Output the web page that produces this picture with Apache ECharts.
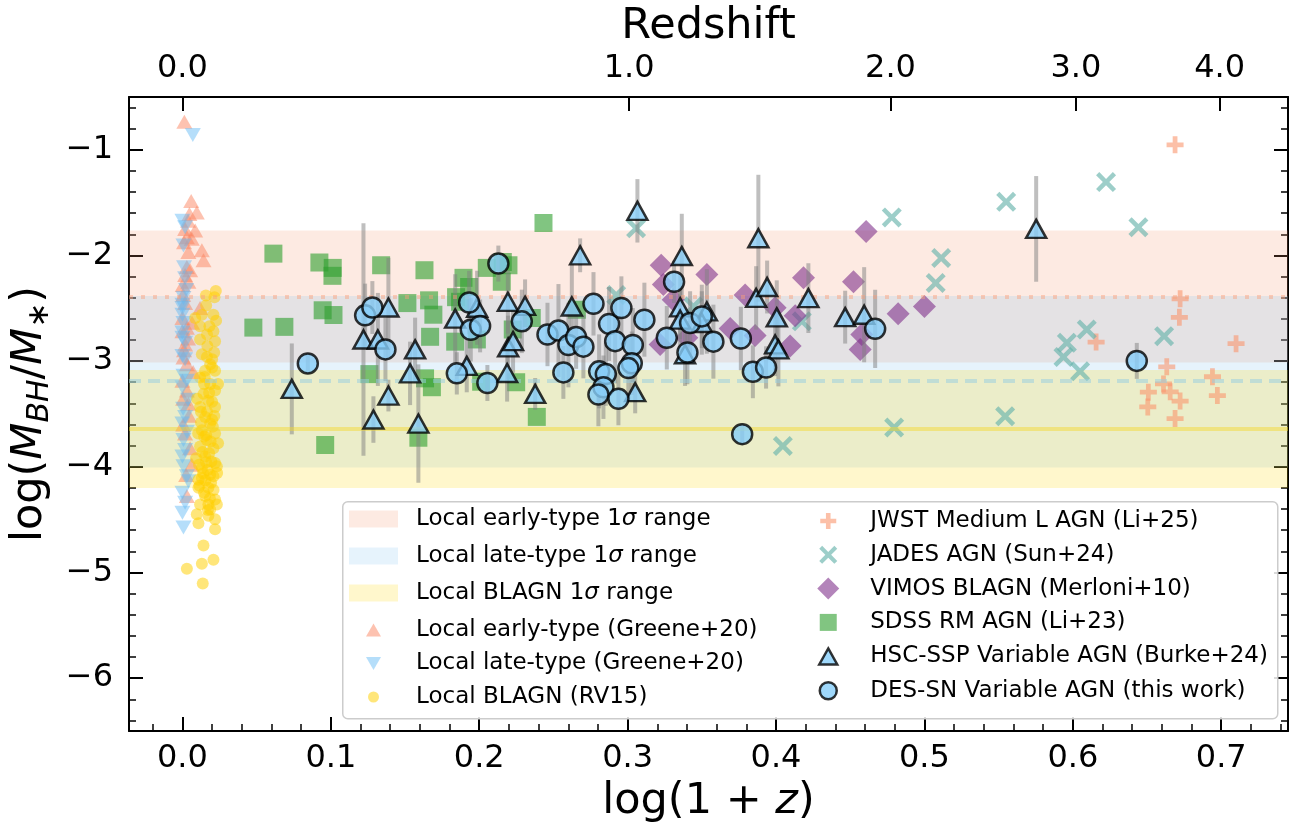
<!DOCTYPE html>
<html><head><meta charset="utf-8">
<script src="https://cdn.jsdelivr.net/npm/echarts@6/dist/echarts.min.js"></script>
<style>html,body{margin:0;padding:0;background:#fff}#c{width:1304px;height:832px}</style>
</head><body><div id="c"></div>
<script>
// ---------- tick labels ----------
const xTicks = [0, 0.1, 0.2, 0.3, 0.4, 0.5, 0.6, 0.7];
const yTicks = [-6, -5, -4, -3, -2, -1];
const redshiftTicks = [0, 1, 2, 3, 4];
const X_MIN = -0.036, X_MAX = 0.745, Y_MIN = -6.5, Y_MAX = -0.5;

// ---------- local 1-sigma ranges ----------
const bandEarly = [-1.765, -3.013], meanEarly = -2.39;
const bandLate = [-2.385, -4.006], meanLate = -3.195;
const bandBLAGN = [-3.085, -4.20], meanBLAGN = -3.644;

// ---------- Local early-type (Greene+20) ----------
const earlyX = [0.0013,0.0059,0.0047,0.0097,0.0018,0.0030,0.0063,0.0011,0.0131,0.0142,0.0040,0.0030,0.0018,0.0040,0.0002,0.0119,0.0018,0.0000,0.0030,0.0000,0.0018,0.0007,0.0030,0.0000,0.0030,0.0040,0.0063,0.0030,0.0052,0.0005,0.0065,0.0038,0.0011,0.0072,0.0005,0.0045,0.0018,0.0052,0.0025,0.0005,0.0038,0.0086];
const earlyY = [-0.735,-1.484,-1.609,-1.594,-1.749,-1.828,-1.843,-1.875,-1.952,-2.046,-1.968,-2.109,-2.186,-2.249,-2.280,-2.498,-2.451,-2.592,-2.685,-2.717,-2.842,-2.966,-3.029,-3.185,-3.279,-3.404,-3.981,-4.277,-2.140,-2.373,-2.636,-2.786,-2.898,-3.104,-3.357,-3.516,-3.685,-3.825,-4.078,-3.600,-1.671,-1.765];

// ---------- Local late-type (Greene+20) ----------
const lateX = [0.0070,0.0000,0.0018,0.0007,0.0018,0.0007,0.0000,0.0000,0.0007,0.0000,0.0000,0.0018,0.0000,0.0018,0.0007,0.0030,0.0000,0.0018,0.0000,0.0030,0.0007,0.0018,0.0000,0.0007,0.0030,0.0040,0.0000,0.0018,0.0000,0.0007,0.0011,0.0025,0.0000,0.0038,0.0005];
const lateY = [-0.860,-1.671,-1.734,-1.905,-2.217,-2.404,-2.467,-2.561,-2.639,-2.498,-2.779,-2.826,-2.951,-2.982,-3.138,-3.185,-3.247,-3.528,-3.591,-3.669,-3.747,-3.841,-3.903,-3.996,-4.090,-4.137,-4.246,-4.340,-4.434,-4.574,-2.111,-2.327,-2.730,-3.366,-3.450];

// ---------- Local BLAGN (RV15) ----------
const blX = [0.0225,0.0158,0.0216,0.0160,0.0209,0.0086,0.0131,0.0182,0.0119,0.0209,0.0227,0.0220,0.0119,0.0168,0.0214,0.0131,0.0187,0.0153,0.0220,0.0119,0.0187,0.0220,0.0142,0.0175,0.0119,0.0220,0.0153,0.0187,0.0131,0.0220,0.0164,0.0119,0.0209,0.0153,0.0220,0.0131,0.0187,0.0108,0.0232,0.0209,0.0131,0.0108,0.0175,0.0220,0.0153,0.0119,0.0175,0.0232,0.0097,0.0175,0.0220,0.0108,0.0220,0.0142,0.0131,0.0209,0.0030,0.0137,0.0166,0.0200,0.0146,0.0200,0.0166,0.0200,0.0146,0.0180,0.0160,0.0193,0.0146,0.0187,0.0099,0.0106,0.0240,0.0240,0.0092,0.0234,0.0150,0.0180,0.0125,0.0205,0.0160,0.0135,0.0195,0.0170,0.0115,0.0210,0.0155,0.0185,0.0125,0.0200,0.0165,0.0140,0.0190,0.0112,0.0172,0.0215];
const blY = [-2.336,-2.380,-2.395,-2.474,-2.561,-2.592,-2.561,-2.670,-2.670,-2.717,-2.617,-2.811,-2.795,-2.858,-2.919,-2.935,-3.029,-3.092,-3.092,-3.154,-3.216,-3.279,-3.310,-3.373,-3.434,-3.434,-3.528,-3.591,-3.654,-3.684,-3.747,-3.809,-3.825,-3.903,-3.965,-4.012,-4.075,-4.122,-3.996,-4.090,-4.106,-4.199,-4.199,-4.309,-4.277,-4.356,-4.356,-4.356,-4.449,-4.464,-4.496,-4.534,-4.590,-4.745,-4.918,-4.880,-4.964,-5.105,-2.748,-2.982,-3.216,-3.385,-3.479,-3.554,-3.713,-3.872,-3.956,-4.152,-4.246,-4.405,-3.357,-3.685,-3.778,-3.216,-3.920,-4.059,-3.150,-3.300,-3.480,-3.620,-3.700,-3.860,-3.950,-4.030,-4.180,-4.220,-4.130,-4.300,-3.580,-3.060,-2.960,-4.060,-3.760,-3.980,-4.410,-3.520];

// ---------- JWST Medium L AGN (Li+25) ----------
const jwstX = [0.6689,0.6723,0.6718,0.6157,0.7100,0.6633,0.6611,0.6656,0.6723,0.6689,0.6509,0.6505,0.6941,0.6974];
const jwstY = [-0.953,-2.411,-2.586,-2.820,-2.835,-3.054,-3.216,-3.291,-3.378,-3.544,-3.294,-3.434,-3.148,-3.326];

// ---------- JADES AGN (Sun+24) ----------
const jadesX = [0.3057,0.2923,0.3443,0.4174,0.4046,0.4780,0.4796,0.5113,0.5076,0.5551,0.5544,0.5960,0.5937,0.6094,0.6049,0.6224,0.6442,0.6615];
const jadesY = [-1.743,-2.374,-2.483,-2.624,-3.803,-1.640,-3.628,-2.024,-2.261,-1.493,-3.522,-2.826,-2.961,-2.701,-3.097,-1.306,-1.734,-2.764];

// ---------- VIMOS BLAGN (Merloni+10) ----------
const vimosX = [0.3226,0.3241,0.3307,0.3534,0.3792,0.3691,0.3859,0.3994,0.4129,0.4095,0.4185,0.4522,0.4607,0.4567,0.4578,0.4823,0.5000,0.3219,0.3399];
const vimosY = [-2.093,-2.275,-2.420,-2.180,-2.374,-2.692,-2.757,-2.495,-2.570,-2.858,-2.212,-2.249,-1.774,-2.889,-2.748,-2.551,-2.483,-2.842,-2.779];

// ---------- SDSS RM AGN (Li+23) ----------
const sdssX = [0.0478,0.0613,0.0687,0.0923,0.0945,0.1013,0.1011,0.1018,0.0962,0.1339,0.1260,0.1516,0.1631,0.1662,0.1691,0.1669,0.1635,0.1681,0.1590,0.1844,0.1838,0.1894,0.1932,0.2051,0.2159,0.2152,0.2013,0.2249,0.2226,0.1984,0.2433,0.2197,0.2658,0.2354,0.2388,0.1871];
const sdssY = [-2.683,-1.983,-2.676,-2.067,-2.519,-2.118,-2.193,-2.564,-3.794,-2.093,-3.123,-2.451,-2.140,-2.425,-2.561,-2.770,-3.163,-3.247,-3.725,-2.395,-2.816,-2.212,-2.299,-2.118,-2.062,-2.249,-3.195,-3.200,-2.701,-2.795,-1.693,-2.093,-2.514,-2.592,-3.528,-2.439];

// ---------- HSC-SSP Variable AGN (Burke+24) ----------
const hscX = [0.0737,0.1220,0.1317,0.1388,0.1287,0.1388,0.1568,0.1534,0.1590,0.1838,0.1916,0.1986,0.2193,0.2188,0.2195,0.2228,0.2309,0.2377,0.2624,0.2680,0.3051,0.3066,0.3354,0.3354,0.3365,0.3387,0.3534,0.3866,0.3881,0.3940,0.4005,0.3994,0.4016,0.4218,0.4466,0.4594,0.5753,0.3500];
const hscY = [-3.263,-2.795,-2.795,-2.493,-3.553,-3.326,-2.889,-3.116,-3.591,-2.598,-3.045,-2.495,-2.439,-3.113,-2.870,-2.811,-2.477,-3.310,-2.483,-1.999,-3.294,-1.578,-2.491,-2.608,-2.006,-2.935,-2.530,-2.402,-1.837,-2.299,-2.586,-2.842,-2.889,-2.404,-2.584,-2.561,-1.749,-2.639];
const hscErr = [0.43,1.10,0.44,0.47,0.22,0.15,0.30,0.30,0.56,0.42,0.25,0.35,0.30,0.27,0.30,0.30,0.25,0.15,0.40,0.16,0.20,0.30,0.30,0.30,0.40,0.30,0.40,0.30,0.60,0.25,0.35,0.30,0.35,0.33,0.25,0.45,0.50,0.30];

// ---------- DES-SN Variable AGN (this work) ----------
const desX = [0.0845,0.1231,0.1280,0.1368,0.1849,0.1932,0.1943,0.2006,0.2055,0.2129,0.2287,0.2460,0.2534,0.2601,0.2653,0.2702,0.2567,0.2770,0.2875,0.2958,0.2916,0.3035,0.2808,0.2853,0.2837,0.2803,0.2938,0.3028,0.3005,0.3113,0.3264,0.3313,0.3403,0.3421,0.3500,0.3578,0.3763,0.3844,0.3933,0.3772,0.4668,0.6431];
const desY = [-3.022,-2.567,-2.493,-2.889,-3.116,-2.446,-2.704,-2.667,-3.207,-2.077,-2.624,-2.748,-2.711,-2.848,-2.773,-2.863,-3.107,-2.458,-2.648,-2.498,-2.811,-2.848,-3.097,-3.123,-3.247,-3.316,-3.357,-3.020,-3.066,-2.608,-2.779,-2.249,-2.919,-2.639,-2.577,-2.816,-2.786,-3.101,-3.060,-3.691,-2.695,-2.998];
const desErr = [0.10,0.30,0.25,0.30,0.20,0.30,0.30,0.25,0.17,0.17,0.30,0.30,0.44,0.40,0.30,0.30,0.25,0.30,0.35,0.30,0.40,0.35,0.35,0.30,0.30,0.30,0.25,0.30,0.30,0.35,0.30,0.20,0.30,0.30,0.30,0.35,0.30,0.25,0.20,0.10,0.37,0.17];

// ---------- names ----------
const N = {
  bandE: 'Local early-type 1σ range', bandL: 'Local late-type 1σ range', bandB: 'Local BLAGN 1σ range',
  early: 'Local early-type (Greene+20)', late: 'Local late-type (Greene+20)', bl: 'Local BLAGN (RV15)',
  jwst: 'JWST Medium L AGN (Li+25)', jades: 'JADES AGN (Sun+24)', vimos: 'VIMOS BLAGN (Merloni+10)',
  sdss: 'SDSS RM AGN (Li+23)', hsc: 'HSC-SSP Variable AGN (Burke+24)', des: 'DES-SN Variable AGN (this work)'
};

// ---------- styling ----------
const F = 'DejaVu Sans';
const colBandE = 'rgba(245,150,110,0.2)', colBandL = 'rgba(130,195,240,0.2)', colBandB = 'rgba(255,215,0,0.2)';
const colEarly = 'rgba(250,128,90,0.6)', colLate = 'rgba(100,185,245,0.6)', colBL = 'rgba(255,208,0,0.65)';
const colJWST = 'rgba(250,150,110,0.75)', colJADES = 'rgba(102,178,170,0.8)', colVIMOS = 'rgba(128,50,140,0.75)';
const colSDSS = 'rgba(45,158,45,0.75)', colSky = '#87CEFA';
const PLUS = 'path://M-0.14,-0.5 L0.14,-0.5 L0.14,-0.14 L0.5,-0.14 L0.5,0.14 L0.14,0.14 L0.14,0.5 L-0.14,0.5 L-0.14,0.14 L-0.5,0.14 L-0.5,-0.14 L-0.14,-0.14 Z';
const CROSS = 'path://M-0.34,-0.5 L0,-0.16 L0.34,-0.5 L0.5,-0.34 L0.16,0 L0.5,0.34 L0.34,0.5 L0,0.16 L-0.34,0.5 L-0.5,0.34 L-0.16,0 L-0.5,-0.34 Z';

const PADL = 'path://M-37.5,-8.5 M37.5,8.5 ';
const PADR = 'path://M-37,-12 M37,12 ';
const ICON = {
  patch: PADL + 'M-24.5,-8.5 L24.5,-8.5 L24.5,8.5 L-24.5,8.5 Z',
  early: PADL + 'M0,-6.5 L7.5,6.5 L-7.5,6.5 Z',
  late: PADL + 'M-7.5,-6.5 L7.5,-6.5 L0,6.5 Z',
  bl: PADL + 'M5.5,0 A5.5,5.5 0 1 1 -5.5,0 A5.5,5.5 0 1 1 5.5,0 Z',
  jwst: PADR + 'M-2.3,-8 L2.3,-8 L2.3,-2.3 L8,-2.3 L8,2.3 L2.3,2.3 L2.3,8 L-2.3,8 L-2.3,2.3 L-8,2.3 L-8,-2.3 L-2.3,-2.3 Z',
  jades: PADR + 'M-6.1,-9 L0,-2.9 L6.1,-9 L9,-6.1 L2.9,0 L9,6.1 L6.1,9 L0,2.9 L-6.1,9 L-9,6.1 L-2.9,0 L-9,-6.1 Z',
  vimos: PADR + 'M0,-11 L11,0 L0,11 L-11,0 Z',
  sdss: PADR + 'M-8.5,-8.5 L8.5,-8.5 L8.5,8.5 L-8.5,8.5 Z',
  hsc: PADR + 'M0,-8 L9,8 L-9,8 Z',
  des: PADR + 'M8.5,0 A8.5,8.5 0 1 1 -8.5,0 A8.5,8.5 0 1 1 8.5,0 Z'
};

const pairs = (xs, ys) => xs.map((x, i) => [x, ys[i]]);
const range = (a, b, s) => { const r = []; for (let i = 0; a + i * s <= b + 1e-9; i++) r.push(+(a + i * s).toFixed(3)); return r; };
const xMinor = range(-0.02, 0.74, 0.02);
const yMinor = range(-6.4, -0.6, 0.2);

function band(name, b, mean, color, lineColor, lineType) {
  return {
    name, type: 'line', data: [], z: 1, silent: true,
    markArea: { silent: true, itemStyle: { color }, data: [[{ yAxis: b[0] }, { yAxis: b[1] }]] },
    markLine: { silent: true, symbol: 'none', label: { show: false },
      lineStyle: { color: lineColor, width: 4, type: lineType }, data: [{ yAxis: mean }] }
  };
}
function errSeries(xs, ys, es, z) {
  return {
    type: 'custom', silent: true, z, data: xs.map((x, i) => [x, ys[i], es[i]]),
    encode: { x: 0, y: 1 },
    renderItem(params, api) {
      const x = api.value(0), y = api.value(1), e = api.value(2);
      const a = api.coord([x, y + e]), b = api.coord([x, y - e]);
      return { type: 'line', shape: { x1: a[0], y1: a[1], x2: b[0], y2: b[1] },
        style: { stroke: 'rgba(128,128,128,0.5)', lineWidth: 4 } };
    }
  };
}
const sc = (name, xs, ys, symbol, size, color, z, extra) => Object.assign({
  name, type: 'scatter', data: pairs(xs, ys), symbol, symbolSize: size, z,
  itemStyle: { color }, emphasis: { disabled: true }
}, extra || {});

const axBase = {
  type: 'value', min: X_MIN, max: X_MAX, splitLine: { show: false },
  axisLine: { show: true, onZero: false, lineStyle: { color: '#000', width: 2 } }
};
const tickStyle = { color: '#000', width: 2 };
const lblStyle = { fontSize: 32, fontFamily: F, color: '#000' };

const option = {
  animation: false,
  backgroundColor: '#fff',
  grid: { left: 129, right: 16, top: 90, bottom: 101, containLabel: false },
  xAxis: [
    Object.assign({}, axBase, {
      position: 'bottom',
      axisTick: { show: true, inside: true, length: 14, lineStyle: tickStyle, customValues: xTicks },
      axisLabel: Object.assign({ customValues: xTicks, margin: 12, formatter: v => v.toFixed(1) }, lblStyle),
      name: '{a|log(1 + }{i|z}{a|)}', nameLocation: 'middle', nameGap: 46,
      nameTextStyle: { rich: {
        a: { fontSize: 43, fontFamily: F, color: '#000', lineHeight: 46 },
        i: { fontSize: 43, fontFamily: F, fontStyle: 'italic', color: '#000', lineHeight: 46 } } }
    }),
    Object.assign({}, axBase, {
      position: 'top',
      axisTick: { show: true, inside: true, length: 14, lineStyle: tickStyle, customValues: redshiftTicks.map(z => Math.log10(1 + z)) },
      axisLabel: Object.assign({ customValues: redshiftTicks.map(z => Math.log10(1 + z)), margin: 12,
        formatter: v => (Math.pow(10, v) - 1).toFixed(1) }, lblStyle),
      name: 'Redshift', nameLocation: 'middle', nameGap: 48,
      nameTextStyle: { fontSize: 43, fontFamily: F, color: '#000' }
    }),
    Object.assign({}, axBase, {
      position: 'bottom', axisLine: { show: false, onZero: false },
      axisTick: { show: true, inside: true, length: 7, lineStyle: { color: '#000', width: 1.5 }, customValues: xMinor },
      axisLabel: { show: false }
    })
  ],
  yAxis: [
    {
      type: 'value', position: 'left', min: Y_MIN, max: Y_MAX, splitLine: { show: false },
      axisLine: { show: true, onZero: false, lineStyle: { color: '#000', width: 2 } },
      axisTick: { show: true, inside: true, length: 14, lineStyle: tickStyle, customValues: yTicks },
      axisLabel: Object.assign({ customValues: yTicks, margin: 16,
        formatter: v => (v < 0 ? '\u2212' + Math.abs(v) : String(v)) }, lblStyle),
      name: '{a|log(}{i|M}{s|BH}{a|/}{i|M}{s|\u2217}{a|)}', nameLocation: 'middle', nameGap: 70, nameRotate: 90,
      nameTextStyle: { rich: {
        a: { fontSize: 43, fontFamily: F, color: '#000', lineHeight: 50 },
        i: { fontSize: 43, fontFamily: F, fontStyle: 'italic', color: '#000', lineHeight: 50 },
        s: { fontSize: 30, fontFamily: F, fontStyle: 'italic', color: '#000', lineHeight: 30, verticalAlign: 'bottom' } } }
    },
    {
      type: 'value', position: 'right', min: Y_MIN, max: Y_MAX, splitLine: { show: false },
      axisLine: { show: true, onZero: false, lineStyle: { color: '#000', width: 2 } },
      axisTick: { show: true, inside: true, length: 14, lineStyle: tickStyle, customValues: yTicks },
      axisLabel: { show: false }
    },
    {
      type: 'value', position: 'left', min: Y_MIN, max: Y_MAX, splitLine: { show: false },
      axisLine: { show: false, onZero: false },
      axisTick: { show: true, inside: true, length: 7, lineStyle: { color: '#000', width: 1.5 }, customValues: yMinor },
      axisLabel: { show: false }
    },
    {
      type: 'value', position: 'right', min: Y_MIN, max: Y_MAX, splitLine: { show: false },
      axisLine: { show: false, onZero: false },
      axisTick: { show: true, inside: true, length: 7, lineStyle: { color: '#000', width: 1.5 }, customValues: yMinor },
      axisLabel: { show: false }
    }
  ],
  graphic: [{
    type: 'rect', left: 342, top: 501, z: 50, silent: true,
    shape: { width: 935, height: 217, r: 5 },
    style: { fill: 'rgba(255,255,255,0.85)', stroke: '#cccccc', lineWidth: 1.5 }
  }],
  legend: [
    {
      orient: 'vertical', left: 336, top: 506, itemWidth: 75, itemHeight: 17, itemGap: 11, padding: 0, z: 60,
      selectedMode: false,
      textStyle: { fontSize: 23, fontFamily: F, color: '#000', lineHeight: 26,
        rich: { i: { fontSize: 23, fontFamily: F, fontStyle: 'italic', color: '#000', lineHeight: 26 } } },
      formatter: n => n.replace('σ', '{i|σ}'),
      data: [
        { name: N.bandE, icon: ICON.patch, itemStyle: { color: colBandE, borderWidth: 0, borderColor: 'transparent' } },
        { name: N.bandL, icon: ICON.patch, itemStyle: { color: colBandL, borderWidth: 0, borderColor: 'transparent' } },
        { name: N.bandB, icon: ICON.patch, itemStyle: { color: colBandB, borderWidth: 0, borderColor: 'transparent' } }
      ]
    },
    {
      orient: 'vertical', left: 336, top: 617, itemWidth: 75, itemHeight: 17, itemGap: 7.5, padding: 0, z: 60,
      selectedMode: false,
      textStyle: { fontSize: 23, fontFamily: F, color: '#000', lineHeight: 26 },
      data: [
        { name: N.early, icon: ICON.early },
        { name: N.late, icon: ICON.late },
        { name: N.bl, icon: ICON.bl }
      ]
    },
    {
      orient: 'vertical', left: 790, top: 508, itemWidth: 74, itemHeight: 24, itemGap: 7.8, padding: 0, z: 60,
      selectedMode: false,
      textStyle: { fontSize: 23, fontFamily: F, color: '#000', lineHeight: 26 },
      data: [
        { name: N.jwst, icon: ICON.jwst },
        { name: N.jades, icon: ICON.jades },
        { name: N.vimos, icon: ICON.vimos },
        { name: N.sdss, icon: ICON.sdss },
        { name: N.hsc, icon: ICON.hsc, itemStyle: { borderColor: '#000', borderWidth: 2.5 } },
        { name: N.des, icon: ICON.des, itemStyle: { borderColor: '#000', borderWidth: 2.5 } }
      ]
    }
  ],
  series: [
    band(N.bandE, bandEarly, meanEarly, colBandE, 'rgba(250,160,122,0.45)', [4, 8]),
    band(N.bandL, bandLate, meanLate, colBandL, 'rgba(150,205,225,0.5)', [12, 7]),
    band(N.bandB, bandBLAGN, meanBLAGN, colBandB, 'rgba(245,215,40,0.45)', 'solid'),
    sc(N.early, earlyX, earlyY, 'triangle', [16, 14], colEarly, 2),
    sc(N.late, lateX, lateY, 'triangle', [16, 14], colLate, 2, { symbolRotate: 180 }),
    sc(N.bl, blX, blY, 'circle', 12, colBL, 2),
    sc(N.jwst, jwstX, jwstY, PLUS, 17, colJWST, 3),
    sc(N.jades, jadesX, jadesY, CROSS, 20, colJADES, 3),
    sc(N.vimos, vimosX, vimosY, 'diamond', 23, colVIMOS, 3),
    sc(N.sdss, sdssX, sdssY, 'rect', 18, colSDSS, 3),
    errSeries(hscX, hscY, hscErr, 4),
    sc(N.hsc, hscX, hscY, 'triangle', [20, 18], colSky, 5, { itemStyle: { color: colSky, borderColor: '#000', borderWidth: 2.5 } }),
    errSeries(desX, desY, desErr, 4),
    sc(N.des, desX, desY, 'circle', 20, colSky, 6, { itemStyle: { color: colSky, borderColor: '#000', borderWidth: 2.5 } })
  ]
};

const chart = echarts.init(document.getElementById('c'), null, { renderer: 'canvas' });
chart.setOption(option);
</script>
</body></html>
